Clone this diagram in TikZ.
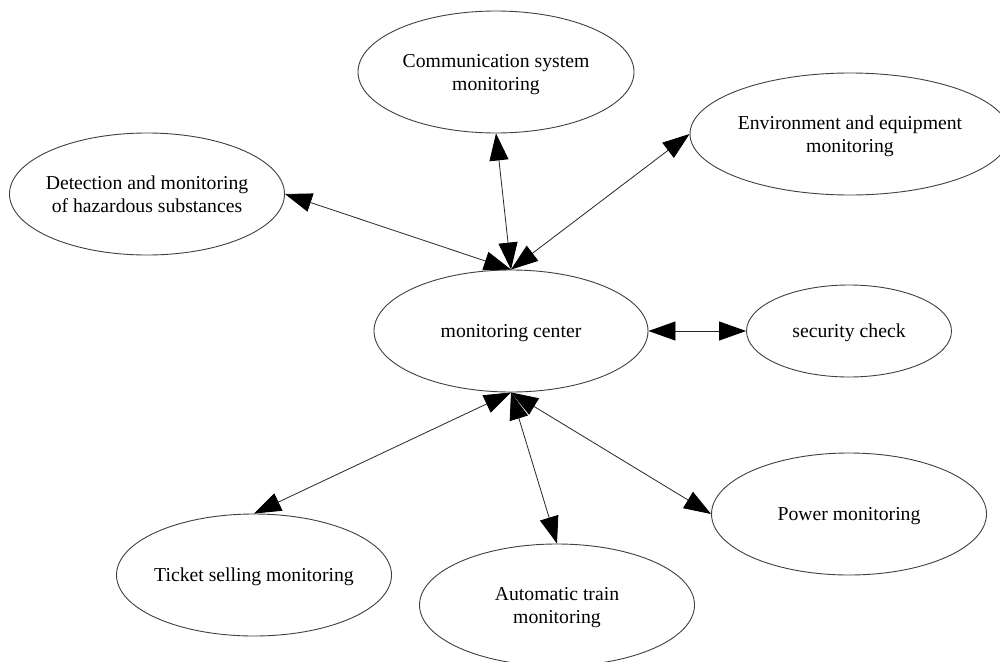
\documentclass[tikz,border=0pt]{standalone}
\usepackage{fontspec}
\setmainfont{Liberation Serif}
\usetikzlibrary{shapes.geometric,arrows.meta}
\begin{document}
\begin{tikzpicture}[x=1pt,y=-1pt,
  unit/.style={ellipse,draw=black!75,line width=0.9pt,inner xsep=-40pt,inner ysep=0pt,
    align=center,font=\fontsize{19.7}{23}\selectfont,text depth=0pt,
    minimum width=274pt,minimum height=122pt},
  link/.style={{Triangle[length=27pt,width=19pt,color=black,fill=black]}-{Triangle[length=27pt,width=19pt,color=black,fill=black]},
    line width=0.8pt,draw=black!85}]
  \clip (0,0) rectangle (1000,661);
  \fill[white] (0,0) rectangle (1000,661);

  % nodes
  \node[unit] (mc)   at (511,331) {monitoring center};
  \node[unit,minimum width=276pt] (comm) at (496,72) {Communication system\\monitoring};
  \node[unit,minimum width=320pt] (env)  at (850,134) {Environment and equipment\\monitoring};
  \node[unit,minimum width=275pt] (det)  at (147,194) {Detection and monitoring\\of hazardous substances};
  \node[unit,minimum width=205pt,minimum height=92pt] (sec) at (849,331) {security check};
  \node[unit,minimum width=275pt] (pow)  at (849,514) {Power monitoring};
  \node[unit,minimum width=275pt] (tic)  at (254,575) {Ticket selling monitoring};
  \node[unit,minimum width=275pt] (atm)  at (557,605) {Automatic train\\monitoring};

  % connectors
  \draw[link] (mc.north) -- (det.east);
  \draw[link] (mc.north) -- (comm.south);
  \draw[link] (mc.north) -- (env.west);
  \draw[link] (mc.east) -- (sec.west);
  \draw[link] (mc.south) -- (tic.north);
  \draw[link] (mc.south) -- (atm.north);
  \draw[link] (mc.south) -- (pow.west);
\end{tikzpicture}
\end{document}
